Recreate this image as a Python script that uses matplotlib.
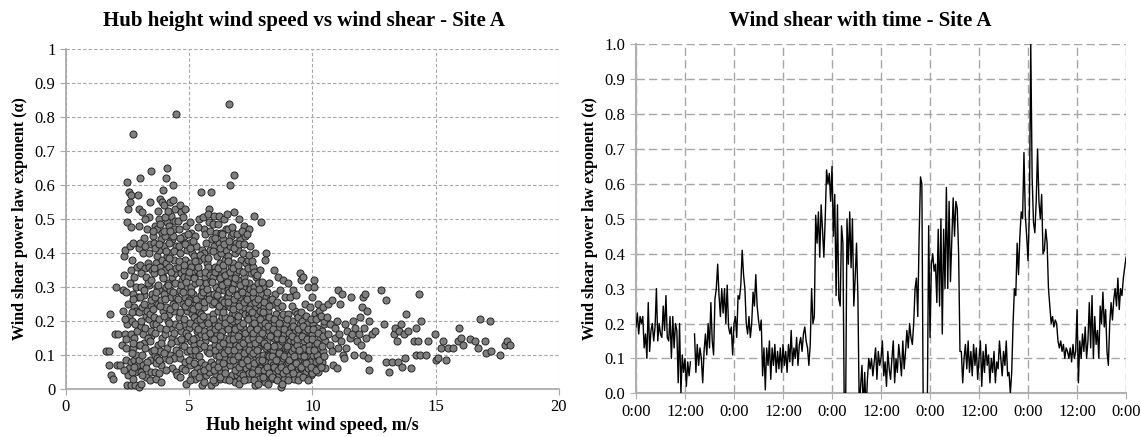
import numpy as np
import matplotlib
matplotlib.use("Agg")
import matplotlib.pyplot as plt

plt.rcParams['font.family'] = ['Liberation Serif', 'DejaVu Serif']

# ---- scatter: hub height wind speed (m/s) vs shear exponent, grouped by speed band
band_a = [(1.62, 0.11), (1.74, 0.11), (1.77, 0.22), (1.76, 0.07), (1.83, 0.04), (1.92, 0.03),
          (2.02, 0.30), (1.98, 0.16), (2.12, 0.16), (2.08, 0.07), (2.21, 0.07), (2.26, 0.13),
          (2.31, 0.23), (2.33, 0.29), (2.36, 0.39), (2.41, 0.41), (2.39, 0.16), (2.42, 0.085),
          (2.46, 0.01), (2.47, 0.61), (2.52, 0.53), (2.49, 0.49), (2.56, 0.58), (2.58, 0.55),
          (2.63, 0.57), (2.61, 0.42), (2.64, 0.35), (2.58, 0.31), (2.51, 0.25), (2.55, 0.21),
          (2.48, 0.19), (2.62, 0.16), (2.45, 0.12), (2.63, 0.08), (2.54, 0.06), (2.50, 0.04),
          (2.62, 0.01), (2.70, 0.75), (2.72, 0.43), (2.69, 0.38), (2.76, 0.33), (2.71, 0.28),
          (2.77, 0.24), (2.68, 0.20), (2.75, 0.15), (2.71, 0.12), (2.77, 0.085), (2.82, 0.05),
          (2.79, 0.01), (2.86, 0.30), (2.91, 0.27), (2.88, 0.36), (2.92, 0.57), (2.96, 0.48),
          (2.97, 0.53), (2.89, 0.17), (2.93, 0.07), (2.95, 0.005), (2.84, 0.10), (2.81, 0.19),
          (2.96, 0.13), (2.85, 0.23), (2.66, 0.05), (2.87, 0.07), (2.74, 0.03)]
band_a2 = [(2.35, 0.335), (2.45, 0.285), (2.38, 0.205), (2.42, 0.145), (2.37, 0.055),
           (2.65, 0.475), (2.72, 0.265), (2.66, 0.225), (2.74, 0.135), (2.69, 0.105), (2.78, 0.065),
           (2.95, 0.415), (3.02, 0.365), (2.98, 0.225), (3.05, 0.185), (2.97, 0.085), (3.04, 0.015),
           (3.15, 0.445), (3.22, 0.355), (3.18, 0.275), (3.25, 0.215), (3.17, 0.135), (3.24, 0.035),
           (3.35, 0.505), (3.42, 0.425), (3.38, 0.305), (3.45, 0.245), (3.37, 0.205), (3.44, 0.155),
           (3.39, 0.085), (3.41, 0.025)]

band_b = [(3.02, 0.62), (3.08, 0.52), (3.01, 0.43), (3.11, 0.40), (3.05, 0.34), (2.99, 0.27),
          (3.09, 0.24), (3.03, 0.20), (3.12, 0.16), (3.00, 0.13), (3.07, 0.10), (3.13, 0.07),
          (3.04, 0.05), (3.10, 0.04), (3.06, 0.30),
          (3.21, 0.50), (3.27, 0.47), (3.19, 0.42), (3.31, 0.37), (3.24, 0.33), (3.18, 0.25),
          (3.29, 0.23), (3.22, 0.18), (3.33, 0.15), (3.20, 0.12), (3.28, 0.08), (3.25, 0.06),
          (3.32, 0.31), (3.17, 0.29),
          (3.47, 0.64), (3.41, 0.55), (3.52, 0.45), (3.38, 0.36), (3.45, 0.32), (3.50, 0.28),
          (3.43, 0.26), (3.39, 0.22), (3.53, 0.19), (3.46, 0.17), (3.40, 0.14), (3.49, 0.11),
          (3.44, 0.05), (3.51, 0.35), (3.37, 0.40),
          (3.62, 0.48), (3.68, 0.47), (3.58, 0.43), (3.71, 0.39), (3.64, 0.37), (3.57, 0.34),
          (3.69, 0.30), (3.61, 0.27), (3.73, 0.25), (3.59, 0.21), (3.66, 0.19), (3.72, 0.13),
          (3.63, 0.10), (3.70, 0.09), (3.60, 0.05), (3.67, 0.03),
          (3.82, 0.56), (3.88, 0.55), (3.79, 0.50), (3.91, 0.46), (3.84, 0.44), (3.77, 0.41),
          (3.90, 0.38), (3.81, 0.36), (3.93, 0.33), (3.78, 0.29), (3.86, 0.26), (3.92, 0.23),
          (3.83, 0.18), (3.89, 0.15), (3.80, 0.11), (3.87, 0.07), (3.85, 0.02),
          (4.09, 0.65), (4.05, 0.62), (3.99, 0.54), (4.11, 0.49), (4.03, 0.45), (3.97, 0.42),
          (4.08, 0.39), (4.01, 0.35), (4.12, 0.31), (3.98, 0.28), (4.06, 0.24), (4.13, 0.20),
          (4.02, 0.16), (4.10, 0.12), (4.00, 0.09), (4.07, 0.30), (4.04, 0.37),
          (4.22, 0.55), (4.28, 0.51), (4.19, 0.48), (4.31, 0.44), (4.24, 0.40), (4.17, 0.36),
          (4.29, 0.33), (4.21, 0.29), (4.33, 0.25), (4.18, 0.22), (4.26, 0.18), (4.32, 0.15),
          (4.23, 0.10), (4.30, 0.06), (4.20, 0.43), (4.27, 0.27),
          (4.48, 0.81), (4.36, 0.60), (4.42, 0.53), (4.39, 0.47), (4.46, 0.42), (4.37, 0.38),
          (4.44, 0.34), (4.41, 0.31), (4.47, 0.27), (4.38, 0.23), (4.43, 0.19), (4.49, 0.14),
          (4.40, 0.09), (4.45, 0.05), (4.50, 0.04), (4.35, 0.45)]
band_b2 = [(3.55, 0.465), (3.62, 0.415), (3.58, 0.355), (3.66, 0.285), (3.54, 0.235), (3.63, 0.165),
           (3.57, 0.115), (3.65, 0.075),
           (3.75, 0.525), (3.83, 0.485), (3.78, 0.425), (3.86, 0.345), (3.74, 0.305), (3.82, 0.245),
           (3.77, 0.205), (3.85, 0.135), (3.79, 0.085), (3.76, 0.045),
           (3.95, 0.585), (4.03, 0.505), (3.98, 0.465), (4.06, 0.405), (3.94, 0.325), (4.02, 0.265),
           (3.97, 0.215), (4.05, 0.175), (3.99, 0.105), (4.04, 0.055),
           (4.15, 0.525), (4.23, 0.465), (4.18, 0.385), (4.26, 0.345), (4.14, 0.305), (4.22, 0.235),
           (4.17, 0.195), (4.25, 0.135), (4.19, 0.085),
           (4.35, 0.555), (4.43, 0.495), (4.38, 0.405), (4.46, 0.355), (4.34, 0.285), (4.42, 0.245),
           (4.37, 0.165), (4.45, 0.115)]

band_c = [(4.62, 0.54), (4.68, 0.52), (4.58, 0.47), (4.71, 0.44), (4.64, 0.40), (4.57, 0.36),
          (4.69, 0.32), (4.61, 0.29), (4.73, 0.25), (4.59, 0.21), (4.66, 0.17), (4.72, 0.13),
          (4.63, 0.09), (4.70, 0.06), (4.60, 0.42), (4.67, 0.34),
          (4.82, 0.53), (4.88, 0.48), (4.79, 0.45), (4.91, 0.41), (4.84, 0.38), (4.77, 0.35),
          (4.90, 0.30), (4.81, 0.27), (4.93, 0.23), (4.78, 0.19), (4.86, 0.15), (4.92, 0.11),
          (4.83, 0.08), (4.87, 0.015), (4.80, 0.33),
          (5.02, 0.49), (5.08, 0.46), (4.99, 0.43), (5.11, 0.40), (5.04, 0.37), (4.97, 0.33),
          (5.09, 0.30), (5.01, 0.26), (5.13, 0.22), (4.98, 0.18), (5.06, 0.14), (5.12, 0.10),
          (5.03, 0.07), (5.10, 0.04), (5.00, 0.24), (5.07, 0.36),
          (5.22, 0.45), (5.28, 0.42), (5.19, 0.39), (5.31, 0.35), (5.24, 0.31), (5.17, 0.28),
          (5.29, 0.25), (5.21, 0.21), (5.33, 0.17), (5.18, 0.13), (5.26, 0.10), (5.32, 0.06),
          (5.23, 0.03), (5.30, 0.20), (5.20, 0.33), (5.27, 0.15),
          (5.47, 0.58), (5.41, 0.50), (5.52, 0.41), (5.38, 0.38), (5.45, 0.34), (5.50, 0.29),
          (5.43, 0.26), (5.39, 0.23), (5.53, 0.19), (5.46, 0.16), (5.40, 0.12), (5.49, 0.08),
          (5.44, 0.05), (5.51, 0.01), (5.37, 0.36), (5.48, 0.22),
          (5.62, 0.47), (5.68, 0.43), (5.58, 0.40), (5.71, 0.37), (5.64, 0.33), (5.57, 0.30),
          (5.69, 0.27), (5.61, 0.24), (5.73, 0.20), (5.59, 0.17), (5.66, 0.14), (5.72, 0.11),
          (5.63, 0.07), (5.70, 0.04), (5.60, 0.02), (5.67, 0.31),
          (5.88, 0.58), (5.82, 0.53), (5.79, 0.49), (5.91, 0.44), (5.84, 0.41), (5.77, 0.36),
          (5.90, 0.32), (5.81, 0.28), (5.93, 0.25), (5.78, 0.21), (5.86, 0.18), (5.92, 0.15),
          (5.83, 0.12), (5.89, 0.08), (5.80, 0.05), (5.87, 0.01), (5.85, 0.34)]
band_c2 = [(4.55, 0.495), (4.63, 0.445), (4.58, 0.375), (4.66, 0.305), (4.54, 0.265), (4.62, 0.225),
           (4.57, 0.185), (4.65, 0.145), (4.59, 0.105), (4.61, 0.035),
           (4.75, 0.505), (4.83, 0.425), (4.78, 0.365), (4.86, 0.315), (4.74, 0.285), (4.82, 0.245),
           (4.77, 0.205), (4.85, 0.165), (4.79, 0.125), (4.81, 0.055),
           (4.95, 0.455), (5.03, 0.415), (4.98, 0.345), (5.06, 0.285), (4.94, 0.255), (5.02, 0.195),
           (4.97, 0.155), (5.05, 0.115), (4.99, 0.085), (5.04, 0.025),
           (5.15, 0.435), (5.23, 0.375), (5.18, 0.325), (5.26, 0.265), (5.14, 0.235), (5.22, 0.185),
           (5.17, 0.145), (5.25, 0.115), (5.19, 0.075), (5.21, 0.045),
           (5.35, 0.475), (5.43, 0.395), (5.38, 0.315), (5.46, 0.275), (5.34, 0.245), (5.42, 0.205),
           (5.37, 0.175), (5.45, 0.135), (5.39, 0.095), (5.41, 0.035),
           (5.55, 0.505), (5.63, 0.455), (5.58, 0.385), (5.66, 0.345), (5.54, 0.285), (5.62, 0.255),
           (5.57, 0.215), (5.65, 0.155), (5.59, 0.125), (5.61, 0.055),
           (5.75, 0.515), (5.83, 0.465), (5.78, 0.385), (5.86, 0.335), (5.74, 0.295), (5.82, 0.265),
           (5.77, 0.195), (5.85, 0.165), (5.79, 0.105), (5.81, 0.065)]

band_d = [(6.02, 0.51), (6.08, 0.46), (5.99, 0.42), (6.11, 0.39), (6.04, 0.36), (5.97, 0.33),
          (6.09, 0.30), (6.01, 0.28), (6.13, 0.25), (5.98, 0.22), (6.06, 0.19), (6.12, 0.16),
          (6.03, 0.13), (6.10, 0.10), (6.00, 0.07), (6.07, 0.04), (6.05, 0.02), (6.14, 0.27),
          (6.22, 0.51), (6.28, 0.46), (6.19, 0.43), (6.31, 0.40), (6.24, 0.37), (6.17, 0.34),
          (6.29, 0.31), (6.21, 0.29), (6.33, 0.26), (6.18, 0.23), (6.26, 0.20), (6.32, 0.17),
          (6.23, 0.14), (6.30, 0.11), (6.20, 0.08), (6.27, 0.05), (6.25, 0.03), (6.34, 0.21),
          (6.42, 0.50), (6.48, 0.47), (6.39, 0.44), (6.51, 0.41), (6.44, 0.38), (6.37, 0.35),
          (6.49, 0.32), (6.41, 0.29), (6.53, 0.27), (6.38, 0.24), (6.46, 0.21), (6.52, 0.18),
          (6.43, 0.15), (6.50, 0.12), (6.40, 0.09), (6.47, 0.06), (6.45, 0.03), (6.54, 0.25),
          (6.60, 0.84), (6.67, 0.60), (6.59, 0.47), (6.71, 0.45), (6.64, 0.42), (6.57, 0.39),
          (6.69, 0.36), (6.61, 0.33), (6.73, 0.30), (6.58, 0.27), (6.66, 0.24), (6.72, 0.22),
          (6.63, 0.19), (6.70, 0.16), (6.62, 0.13), (6.68, 0.10), (6.65, 0.07), (6.74, 0.04),
          (6.56, 0.29),
          (6.80, 0.63), (6.82, 0.52), (6.79, 0.46), (6.91, 0.43), (6.84, 0.40), (6.77, 0.37),
          (6.89, 0.34), (6.81, 0.31), (6.93, 0.28), (6.78, 0.25), (6.86, 0.22), (6.92, 0.19),
          (6.83, 0.16), (6.90, 0.13), (6.85, 0.10), (6.88, 0.07), (6.94, 0.04), (6.87, 0.02),
          (6.76, 0.20),
          (7.02, 0.50), (7.08, 0.44), (6.99, 0.41), (7.11, 0.38), (7.04, 0.35), (6.97, 0.32),
          (7.09, 0.29), (7.01, 0.26), (7.13, 0.23), (6.98, 0.20), (7.06, 0.17), (7.12, 0.14),
          (7.03, 0.11), (7.10, 0.08), (7.00, 0.05), (7.07, 0.03), (7.05, 0.27),
          (7.22, 0.48), (7.28, 0.45), (7.19, 0.40), (7.31, 0.37), (7.24, 0.33), (7.17, 0.30),
          (7.29, 0.27), (7.21, 0.24), (7.33, 0.21), (7.18, 0.18), (7.26, 0.15), (7.32, 0.12),
          (7.23, 0.09), (7.30, 0.06), (7.20, 0.04), (7.27, 0.22),
          (7.42, 0.47), (7.48, 0.42), (7.39, 0.38), (7.51, 0.34), (7.44, 0.31), (7.37, 0.28),
          (7.49, 0.25), (7.41, 0.22), (7.53, 0.19), (7.38, 0.16), (7.46, 0.13), (7.52, 0.10),
          (7.43, 0.07), (7.50, 0.05), (7.40, 0.03), (7.47, 0.21)]
band_d2 = [(5.95, 0.485), (6.03, 0.445), (5.98, 0.405), (6.06, 0.345), (5.94, 0.315), (6.02, 0.255),
           (5.97, 0.205), (6.05, 0.175), (5.99, 0.145), (6.04, 0.115), (6.01, 0.055), (5.96, 0.025),
           (6.15, 0.485), (6.23, 0.415), (6.18, 0.355), (6.26, 0.325), (6.14, 0.275), (6.22, 0.245),
           (6.17, 0.185), (6.25, 0.155), (6.19, 0.125), (6.21, 0.095), (6.16, 0.065), (6.24, 0.035),
           (6.35, 0.455), (6.43, 0.425), (6.38, 0.365), (6.46, 0.335), (6.34, 0.305), (6.42, 0.255),
           (6.37, 0.225), (6.45, 0.195), (6.39, 0.135), (6.41, 0.105), (6.36, 0.075), (6.44, 0.045),
           (6.55, 0.515), (6.63, 0.435), (6.58, 0.375), (6.66, 0.345), (6.54, 0.315), (6.62, 0.285),
           (6.57, 0.255), (6.65, 0.205), (6.59, 0.175), (6.61, 0.145), (6.56, 0.115), (6.64, 0.085),
           (6.60, 0.025),
           (6.75, 0.475), (6.83, 0.415), (6.78, 0.355), (6.86, 0.325), (6.74, 0.295), (6.82, 0.265),
           (6.77, 0.235), (6.85, 0.175), (6.79, 0.145), (6.81, 0.115), (6.76, 0.085), (6.84, 0.055),
           (6.95, 0.455), (7.03, 0.425), (6.98, 0.365), (7.06, 0.305), (6.94, 0.275), (7.02, 0.245),
           (6.97, 0.215), (7.05, 0.185), (6.99, 0.155), (7.01, 0.125), (6.96, 0.095), (7.04, 0.065),
           (7.00, 0.015),
           (7.15, 0.465), (7.23, 0.425), (7.18, 0.345), (7.26, 0.315), (7.14, 0.285), (7.22, 0.255),
           (7.17, 0.195), (7.25, 0.165), (7.19, 0.135), (7.21, 0.105), (7.16, 0.075), (7.24, 0.025),
           (7.35, 0.455), (7.43, 0.395), (7.38, 0.355), (7.46, 0.295), (7.34, 0.265), (7.42, 0.235),
           (7.37, 0.205), (7.45, 0.175), (7.39, 0.145), (7.41, 0.115), (7.36, 0.085), (7.44, 0.045)]

band_e = [(7.62, 0.51), (7.68, 0.40), (7.59, 0.36), (7.71, 0.33), (7.64, 0.30), (7.57, 0.27),
          (7.69, 0.24), (7.61, 0.21), (7.73, 0.18), (7.58, 0.15), (7.66, 0.12), (7.72, 0.09),
          (7.63, 0.06), (7.70, 0.04), (7.65, 0.01), (7.67, 0.19),
          (7.92, 0.49), (7.88, 0.35), (7.79, 0.31), (7.91, 0.28), (7.84, 0.25), (7.77, 0.22),
          (7.90, 0.19), (7.81, 0.16), (7.93, 0.13), (7.78, 0.10), (7.86, 0.08), (7.89, 0.06),
          (7.83, 0.03), (7.80, 0.12), (7.87, 0.23),
          (8.12, 0.40), (8.08, 0.38), (7.99, 0.30), (8.11, 0.27), (8.04, 0.24), (7.97, 0.21),
          (8.09, 0.18), (8.01, 0.15), (8.13, 0.12), (7.98, 0.10), (8.06, 0.08), (8.10, 0.06),
          (8.03, 0.04), (8.07, 0.02), (8.00, 0.14),
          (8.22, 0.31), (8.28, 0.26), (8.19, 0.23), (8.31, 0.20), (8.24, 0.17), (8.17, 0.14),
          (8.29, 0.12), (8.21, 0.10), (8.33, 0.08), (8.18, 0.06), (8.26, 0.04), (8.32, 0.03),
          (8.23, 0.21),
          (8.42, 0.35), (8.48, 0.28), (8.39, 0.25), (8.51, 0.22), (8.44, 0.19), (8.37, 0.16),
          (8.49, 0.13), (8.41, 0.11), (8.53, 0.09), (8.38, 0.07), (8.46, 0.05), (8.52, 0.03),
          (8.43, 0.15),
          (8.62, 0.33), (8.68, 0.29), (8.59, 0.24), (8.71, 0.21), (8.64, 0.18), (8.57, 0.15),
          (8.69, 0.12), (8.61, 0.10), (8.73, 0.08), (8.58, 0.06), (8.66, 0.04), (8.72, 0.005),
          (8.63, 0.13),
          (8.82, 0.32), (8.88, 0.27), (8.79, 0.22), (8.91, 0.19), (8.84, 0.16), (8.77, 0.14),
          (8.90, 0.11), (8.81, 0.09), (8.93, 0.07), (8.78, 0.05), (8.86, 0.03), (8.87, 0.12)]
band_e2 = [(7.55, 0.375), (7.63, 0.345), (7.58, 0.285), (7.66, 0.255), (7.54, 0.225), (7.62, 0.195),
           (7.57, 0.165), (7.65, 0.135), (7.59, 0.105), (7.61, 0.075), (7.56, 0.045), (7.64, 0.025),
           (7.75, 0.335), (7.83, 0.295), (7.78, 0.265), (7.86, 0.205), (7.74, 0.175), (7.82, 0.145),
           (7.77, 0.115), (7.85, 0.085), (7.79, 0.055), (7.81, 0.015),
           (7.95, 0.315), (8.03, 0.255), (7.98, 0.225), (8.06, 0.195), (7.94, 0.165), (8.02, 0.135),
           (7.97, 0.085), (8.05, 0.055), (7.99, 0.035),
           (8.15, 0.285), (8.23, 0.245), (8.18, 0.185), (8.26, 0.155), (8.14, 0.125), (8.22, 0.095),
           (8.17, 0.065), (8.25, 0.045), (8.19, 0.015),
           (8.35, 0.265), (8.43, 0.205), (8.38, 0.175), (8.46, 0.125), (8.34, 0.095), (8.42, 0.065),
           (8.37, 0.035),
           (8.55, 0.255), (8.63, 0.195), (8.58, 0.165), (8.66, 0.105), (8.54, 0.085), (8.62, 0.055),
           (8.57, 0.025),
           (8.75, 0.245), (8.83, 0.175), (8.78, 0.145), (8.86, 0.095), (8.74, 0.065), (8.82, 0.045),
           (8.77, 0.015)]

band_f = [(9.02, 0.31), (9.08, 0.27), (8.99, 0.22), (9.11, 0.18), (9.04, 0.15), (8.97, 0.12),
          (9.09, 0.10), (9.01, 0.08), (9.13, 0.06), (9.05, 0.04), (9.07, 0.14),
          (9.22, 0.29), (9.28, 0.23), (9.19, 0.20), (9.31, 0.17), (9.24, 0.14), (9.17, 0.11),
          (9.29, 0.09), (9.21, 0.07), (9.33, 0.05), (9.26, 0.03), (9.25, 0.12),
          (9.48, 0.34), (9.52, 0.32), (9.39, 0.22), (9.51, 0.19), (9.44, 0.16), (9.37, 0.13),
          (9.49, 0.10), (9.41, 0.08), (9.53, 0.06), (9.46, 0.04), (9.43, 0.21),
          (9.62, 0.33), (9.68, 0.25), (9.59, 0.20), (9.71, 0.17), (9.64, 0.14), (9.57, 0.11),
          (9.69, 0.09), (9.61, 0.07), (9.73, 0.05), (9.66, 0.12),
          (9.82, 0.30), (9.88, 0.24), (9.79, 0.19), (9.91, 0.16), (9.84, 0.13), (9.77, 0.10),
          (9.90, 0.08), (9.81, 0.06), (9.93, 0.04), (9.86, 0.15),
          (10.08, 0.32), (10.05, 0.30), (9.99, 0.27), (10.11, 0.22), (10.04, 0.19), (9.97, 0.16),
          (10.09, 0.13), (10.01, 0.10), (10.13, 0.08), (10.03, 0.06), (9.98, 0.045),
          (10.22, 0.25), (10.28, 0.21), (10.19, 0.18), (10.31, 0.15), (10.24, 0.12), (10.17, 0.10),
          (10.29, 0.07), (10.21, 0.05), (10.26, 0.23),
          (10.42, 0.24), (10.48, 0.19), (10.39, 0.17), (10.51, 0.14), (10.44, 0.11), (10.37, 0.08),
          (10.49, 0.06), (10.45, 0.20)]
band_f2 = [(8.95, 0.205), (9.03, 0.165), (8.98, 0.125), (9.06, 0.085), (8.94, 0.055), (9.02, 0.025),
           (9.15, 0.245), (9.23, 0.185), (9.18, 0.155), (9.26, 0.095), (9.14, 0.065), (9.22, 0.045),
           (9.35, 0.275), (9.43, 0.175), (9.38, 0.145), (9.46, 0.115), (9.34, 0.075), (9.42, 0.025),
           (9.55, 0.225), (9.63, 0.185), (9.58, 0.155), (9.66, 0.095), (9.54, 0.065), (9.62, 0.035),
           (9.75, 0.215), (9.83, 0.175), (9.78, 0.145), (9.86, 0.115), (9.74, 0.075), (9.82, 0.025),
           (9.95, 0.205), (10.03, 0.175), (9.98, 0.145), (10.06, 0.115), (9.94, 0.065),
           (10.15, 0.205), (10.23, 0.165), (10.18, 0.135), (10.26, 0.085), (10.14, 0.055),
           (10.35, 0.215), (10.43, 0.155), (10.38, 0.125), (10.46, 0.095), (10.34, 0.065)]

band_g = [(10.62, 0.25), (10.58, 0.21), (10.64, 0.16), (10.70, 0.13), (10.73, 0.19), (10.81, 0.26),
          (10.78, 0.11), (10.84, 0.07), (10.90, 0.18), (10.93, 0.15), (11.02, 0.29), (10.98, 0.20),
          (11.04, 0.12), (11.00, 0.06), (11.12, 0.25), (11.08, 0.16), (11.18, 0.28), (11.22, 0.10),
          (11.17, 0.14), (11.30, 0.19), (11.27, 0.09), (11.41, 0.17), (11.38, 0.12), (11.52, 0.15),
          (11.58, 0.27), (11.63, 0.20), (11.60, 0.16), (11.72, 0.18), (11.68, 0.10), (11.81, 0.14),
          (11.92, 0.21), (11.88, 0.16), (12.01, 0.24), (12.05, 0.27), (11.98, 0.13), (12.03, 0.10),
          (12.11, 0.18), (12.15, 0.28), (12.21, 0.23), (12.18, 0.15), (12.24, 0.09), (12.31, 0.20),
          (12.28, 0.055), (12.42, 0.16), (12.55, 0.17)]

band_h = [(12.80, 0.29), (12.90, 0.19), (13.00, 0.26), (12.98, 0.08), (13.10, 0.05), (13.22, 0.08),
          (13.30, 0.16), (13.35, 0.18), (13.42, 0.14), (13.50, 0.17), (13.48, 0.08), (13.60, 0.19),
          (13.62, 0.065), (13.70, 0.16), (13.80, 0.22), (13.75, 0.09), (13.88, 0.17), (14.00, 0.06),
          (14.10, 0.14), (14.20, 0.18), (14.18, 0.10), (14.30, 0.14), (14.32, 0.28), (14.40, 0.20),
          (14.38, 0.10), (14.60, 0.10), (14.70, 0.14), (14.98, 0.16), (15.00, 0.085), (15.10, 0.09),
          (15.20, 0.12), (15.30, 0.14), (15.40, 0.085), (15.50, 0.12), (15.70, 0.12), (15.90, 0.14),
          (15.95, 0.18), (16.02, 0.15), (16.10, 0.13), (16.40, 0.145), (16.60, 0.14), (16.70, 0.12),
          (16.80, 0.205), (17.00, 0.14), (17.02, 0.105), (17.20, 0.20), (17.25, 0.11), (17.60, 0.10),
          (17.80, 0.13), (17.90, 0.14), (18.00, 0.13)]

# ---- time series: shear exponent every 20 minutes over 5 days (nan = missing data)
nan = np.nan
shear_day1 = [0.19, 0.23, 0.17, 0.22, 0.20, 0.22, 0.13, 0.17, 0.10, 0.26, 0.12, 0.18,
              0.20, 0.15, 0.19, 0.30, 0.15, 0.20, 0.17, 0.16, 0.25, 0.18, 0.28, 0.16,
              0.15, 0.22, 0.10, 0.22, 0.13, 0.20, 0.18, 0.03, 0.20, 0.00, 0.11, 0.06,
              0.10, 0.02, 0.09, 0.05, 0.09, nan, nan, 0.17, 0.06, 0.14, 0.08, 0.13,
              0.10, 0.03, 0.12, 0.17, 0.11, 0.20, 0.13, 0.26, 0.15, 0.11, 0.27, 0.30,
              0.37, 0.28, 0.22, 0.30, 0.23, 0.30, 0.20, 0.31, 0.19, 0.17, 0.19, 0.11]
shear_day2 = [0.20, 0.22, 0.16, 0.28, 0.27, 0.31, 0.41, 0.34, 0.30, 0.20, 0.17, 0.22,
              0.16, 0.20, 0.29, 0.25, 0.34, 0.25, 0.21, 0.18, 0.21, 0.05, 0.13, 0.01,
              0.13, 0.08, 0.15, 0.04, 0.13, 0.08, 0.14, 0.06, 0.12, 0.07, 0.13, 0.06,
              0.14, 0.08, 0.12, 0.06, 0.14, 0.09, 0.18, 0.08, 0.13, 0.10, 0.16, 0.08,
              0.14, 0.16, 0.12, 0.17, 0.19, 0.15, 0.13, 0.08, 0.14, 0.30, 0.20, 0.22,
              0.51, 0.43, 0.52, 0.39, 0.54, 0.47, 0.39, 0.50, 0.64, 0.60, 0.63, 0.55]
shear_day3 = [0.65, 0.45, 0.57, 0.28, 0.54, 0.27, 0.25, 0.48, 0.43, -0.05, -0.05, 0.50,
              0.37, 0.52, 0.36, 0.50, 0.25, 0.33, 0.43, 0.28, -0.05, 0.02, 0.08, -0.05,
              0.06, -0.05, 0.04, 0.10, 0.07, 0.10, 0.05, 0.09, 0.13, 0.04, 0.12, 0.08,
              0.10, 0.15, 0.05, 0.09, 0.02, 0.12, 0.07, 0.04, 0.10, 0.15, 0.03, 0.10,
              0.06, 0.14, 0.10, 0.05, 0.15, 0.07, 0.12, 0.18, 0.13, 0.20, 0.16, 0.14,
              0.20, 0.30, 0.33, 0.22, 0.45, 0.62, 0.60, -0.05, -0.05, -0.05, -0.05, 0.48]
shear_day4 = [0.16, 0.37, 0.40, 0.35, 0.37, 0.26, 0.47, 0.25, 0.50, 0.17, 0.47, 0.30,
              0.59, 0.30, 0.55, 0.32, 0.44, 0.56, 0.45, 0.55, 0.53, 0.40, 0.12, 0.12,
              0.03, 0.10, 0.14, 0.07, 0.15, 0.06, 0.12, 0.05, 0.14, 0.08, 0.13, 0.04,
              0.10, 0.15, 0.02, 0.12, 0.06, 0.14, 0.08, 0.11, 0.03, 0.10, 0.06, 0.12,
              0.03, 0.09, 0.07, 0.15, 0.10, 0.05, 0.12, 0.08, 0.15, 0.05, 0.06, 0.00,
              0.06, 0.20, 0.30, 0.28, 0.43, 0.34, 0.45, 0.52, 0.50, 0.69, 0.51, 0.45]
shear_day5 = [0.38, 0.52, 1.00, 0.62, 0.49, 0.46, 0.55, 0.70, 0.55, 0.50, 0.57, 0.40,
              0.41, 0.47, 0.43, 0.30, 0.25, 0.20, 0.22, 0.19, 0.21, 0.20, 0.15, 0.13,
              0.15, 0.12, 0.14, 0.10, 0.13, 0.12, 0.10, 0.13, 0.09, 0.14, 0.10, 0.12,
              0.24, 0.03, 0.15, 0.10, 0.17, 0.12, 0.19, 0.10, 0.15, 0.26, 0.13, 0.28,
              0.10, 0.22, 0.14, 0.18, 0.10, 0.25, 0.20, 0.29, 0.19, 0.24, 0.12, 0.08,
              0.20, 0.26, 0.21, 0.27, 0.30, 0.25, 0.33, 0.24, 0.30, 0.28, 0.33, 0.36,
              0.39]

time_ticks = [0, 12, 24, 36, 48, 60, 72, 84, 96, 108, 120]
time_labels = ["0:00", "12:00", "0:00", "12:00", "0:00", "12:00", "0:00", "12:00",
               "0:00", "12:00", "0:00"]

points = (band_a + band_a2 + band_b + band_b2 + band_c + band_c2 + band_d + band_d2
          + band_e + band_e2 + band_f + band_f2 + band_g + band_h)
wind_speed = np.array([p[0] for p in points])
shear = np.array([p[1] for p in points])

shear_ts = np.array(shear_day1 + shear_day2 + shear_day3 + shear_day4 + shear_day5)
hours = np.arange(len(shear_ts)) / 3.0

fig = plt.figure(figsize=(11.41, 4.37), dpi=100)

# left: scatter
ax1 = fig.add_axes([0.0578, 0.1105, 0.4321, 0.7767])
ax1.scatter(wind_speed, shear, s=26, facecolor='#7f7f7f', edgecolor='#262626',
            linewidths=0.7, zorder=3, clip_on=False)
ax1.set_xlim(0, 20)
ax1.set_ylim(0, 1)
ax1.set_xticks([0, 5, 10, 15, 20])
ax1.set_yticks(np.arange(0, 1.01, 0.1))
ax1.set_yticklabels(["0", "0.1", "0.2", "0.3", "0.4", "0.5", "0.6", "0.7", "0.8", "0.9", "1"])
ax1.grid(True, color='#a6a6a6', linestyle=(0, (3, 2)), linewidth=0.8)
for s in ['top', 'right']:
    ax1.spines[s].set_visible(False)
for s in ['left', 'bottom']:
    ax1.spines[s].set_color('#a6a6a6')
    ax1.spines[s].set_linewidth(1.2)
ax1.tick_params(labelsize=12, colors='#a6a6a6', labelcolor='black', length=4)
ax1.set_xlabel("Hub height wind speed, m/s", fontsize=13, fontweight='bold', labelpad=1)
ax1.set_ylabel("Wind shear power law exponent (\u03b1)", fontsize=11.5, fontweight='bold', labelpad=5)
ax1.set_axisbelow(True)
fig.text(0.266, 0.952, "Hub height wind speed vs wind shear - Site A", ha='center', va='center',
         fontsize=15, fontweight='bold')

# right: time series
ax2 = fig.add_axes([0.5574, 0.1, 0.4295, 0.7986])
ax2.plot(hours, shear_ts, color='black', linewidth=1.0, zorder=3)
ax2.set_xlim(0, 120)
ax2.set_ylim(0, 1)
ax2.set_xticks(time_ticks)
ax2.set_xticklabels(time_labels)
ax2.set_yticks(np.arange(0, 1.01, 0.1))
ax2.set_yticklabels(["%.1f" % v for v in np.arange(0, 1.01, 0.1)])
ax2.grid(True, color='#a6a6a6', linestyle=(0, (6, 3)), linewidth=1.0)
for s in ['top', 'right']:
    ax2.spines[s].set_visible(False)
for s in ['left', 'bottom']:
    ax2.spines[s].set_color('#b0b0b0')
    ax2.spines[s].set_linewidth(1.5)
ax2.tick_params(labelsize=12, colors='#b0b0b0', labelcolor='black', length=4)
ax2.set_ylabel("Wind shear power law exponent (\u03b1)", fontsize=11.5, fontweight='bold', labelpad=5)
ax2.set_axisbelow(True)
fig.text(0.754, 0.952, "Wind shear with time - Site A", ha='center', va='center',
         fontsize=15, fontweight='bold')

fig.savefig("out.png", dpi=100)
